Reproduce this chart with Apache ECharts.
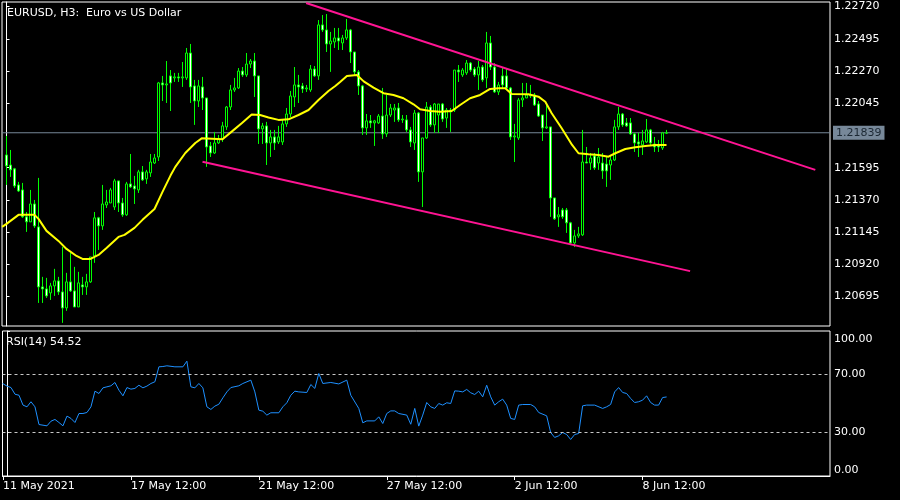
<!DOCTYPE html>
<html><head><meta charset="utf-8">
<script src="https://cdn.jsdelivr.net/npm/echarts@6/dist/echarts.min.js"></script>
<style>html,body{margin:0;padding:0;background:#000}#c{width:900px;height:500px}</style>
</head><body><div id="c"></div>
<script>
// ---- data ----
const titleText = 'EURUSD, H3:  Euro vs US Dollar';
const rsiTitle = 'RSI(14) 54.52';
const priceTicks = [1.20695, 1.20920, 1.21145, 1.21370, 1.21595, 1.22045, 1.22270, 1.22495, 1.22720];
const rsiTicks = [0, 30, 70, 100];
const rsiLevels = [30, 70];
const timeLabels = ['11 May 2021', '17 May 12:00', '21 May 12:00', '27 May 12:00', '2 Jun 12:00', '8 Jun 12:00'];
const timeLabelBars = [-1, 31, 63, 95, 127, 159];
const bidPrice = 1.21839;
// candles: [open, close, low, high], one per H3 bar
const candles = [
[1.21684,1.21608,1.21475,1.21817],[1.21614,1.21580,1.21531,1.21719],[1.21587,1.21468,1.21454,1.21594],[1.21475,1.21433,1.21426,1.21496],
[1.21440,1.21252,1.21245,1.21489],[1.21252,1.21217,1.21147,1.21286],[1.21217,1.21342,1.21217,1.21440],[1.21342,1.21189,1.21175,1.21370],
[1.21182,1.20763,1.20651,1.21524],[1.20763,1.20749,1.20651,1.20833],[1.20749,1.20700,1.20686,1.20826],[1.20721,1.20770,1.20672,1.20791],
[1.20770,1.20805,1.20700,1.20889],[1.20805,1.20728,1.20707,1.20833],[1.20728,1.20616,1.20512,1.21042],[1.20616,1.20798,1.20596,1.20861],
[1.20798,1.20735,1.20728,1.21000],[1.20735,1.20623,1.20623,1.20903],[1.20623,1.20791,1.20623,1.20868],[1.20777,1.20763,1.20707,1.20833],
[1.20763,1.20798,1.20707,1.20854],[1.20798,1.20972,1.20791,1.20972],[1.20979,1.21245,1.20931,1.21286],[1.21245,1.21189,1.21021,1.21252],
[1.21189,1.21342,1.21161,1.21475],[1.21335,1.21356,1.21314,1.21440],[1.21349,1.21440,1.21349,1.21454],[1.21321,1.21503,1.21300,1.21517],
[1.21503,1.21349,1.21286,1.21503],[1.21349,1.21266,1.21252,1.21384],[1.21266,1.21482,1.21259,1.21496],[1.21482,1.21461,1.21454,1.21691],
[1.21468,1.21447,1.21342,1.21538],[1.21440,1.21566,1.21419,1.21580],[1.21566,1.21510,1.21503,1.21607],[1.21517,1.21566,1.21482,1.21580],
[1.21559,1.21635,1.21531,1.21691],[1.21628,1.21663,1.21621,1.21691],[1.21670,1.22187,1.21642,1.22194],[1.22187,1.22173,1.22061,1.22236],
[1.22173,1.22180,1.22047,1.22340],[1.22236,1.22187,1.21991,1.22277],[1.22222,1.22229,1.22194,1.22257],[1.22229,1.22222,1.22194,1.22257],
[1.22222,1.22229,1.22159,1.22333],[1.22222,1.22396,1.22208,1.22431],[1.22396,1.22159,1.22047,1.22459],[1.22166,1.22061,1.21894,1.22208],
[1.22061,1.22166,1.22019,1.22208],[1.22159,1.22082,1.21998,1.22229],[1.22082,1.21740,1.21601,1.22082],[1.21747,1.21698,1.21670,1.21775],
[1.21698,1.21768,1.21691,1.21845],[1.21768,1.21796,1.21761,1.21824],[1.21796,1.21887,1.21775,1.21915],[1.21880,1.22019,1.21859,1.22026],
[1.22019,1.22138,1.21998,1.22173],[1.22138,1.22152,1.22124,1.22222],[1.22152,1.22270,1.22145,1.22291],[1.22270,1.22243,1.22229,1.22298],
[1.22243,1.22319,1.22229,1.22396],[1.22319,1.22340,1.22291,1.22354],[1.22340,1.22236,1.22089,1.22396],[1.22236,1.21866,1.21761,1.22236],
[1.21866,1.21887,1.21761,1.21908],[1.21887,1.21768,1.21614,1.21915],[1.21768,1.21810,1.21670,1.21859],[1.21810,1.21768,1.21719,1.21859],
[1.21775,1.21810,1.21761,1.21887],[1.21775,1.21901,1.21754,1.21929],[1.21901,1.21970,1.21880,1.22012],[1.21970,1.22096,1.21949,1.22131],
[1.22089,1.22173,1.22019,1.22298],[1.22173,1.22159,1.22047,1.22243],[1.22166,1.22145,1.22117,1.22187],[1.22145,1.22152,1.22124,1.22173],
[1.22138,1.22284,1.22124,1.22312],[1.22284,1.22236,1.22229,1.22305],[1.22236,1.22592,1.22208,1.22626],[1.22592,1.22557,1.22543,1.22661],
[1.22557,1.22459,1.22403,1.22668],[1.22459,1.22480,1.22264,1.22543],[1.22473,1.22501,1.22431,1.22571],[1.22501,1.22480,1.22417,1.22571],
[1.22466,1.22501,1.22417,1.22522],[1.22501,1.22557,1.22487,1.22633],[1.22557,1.22403,1.22326,1.22564],[1.22403,1.22264,1.22243,1.22403],
[1.22264,1.22166,1.22103,1.22277],[1.22166,1.21873,1.21824,1.22173],[1.21873,1.21922,1.21824,1.21970],[1.21922,1.21908,1.21873,1.21963],
[1.21908,1.21922,1.21747,1.21929],[1.21908,1.21956,1.21901,1.21970],[1.21956,1.21831,1.21796,1.22152],[1.21831,1.21963,1.21810,1.22103],
[1.21963,1.22012,1.21949,1.22040],[1.21998,1.22012,1.21915,1.22040],[1.22012,1.21929,1.21915,1.22047],[1.21929,1.21935,1.21908,1.21963],
[1.21929,1.21859,1.21845,1.21963],[1.21859,1.21775,1.21740,1.21880],[1.21768,1.21977,1.21719,1.21998],[1.21977,1.21566,1.21496,1.21984],
[1.21566,1.21803,1.21321,1.21803],[1.21803,1.22019,1.21796,1.22054],[1.22019,1.21894,1.21880,1.22033],[1.21894,1.22040,1.21838,1.22047],
[1.21963,1.22040,1.21838,1.22040],[1.22040,1.21935,1.21915,1.22047],[1.21942,1.21998,1.21873,1.22012],[1.21998,1.21984,1.21845,1.22012],
[1.21998,1.22277,1.21984,1.22277],[1.22277,1.22264,1.22194,1.22312],[1.22243,1.22277,1.22229,1.22291],[1.22257,1.22326,1.22243,1.22347],
[1.22326,1.22277,1.22264,1.22333],[1.22284,1.22243,1.22229,1.22298],[1.22243,1.22298,1.22138,1.22340],[1.22298,1.22208,1.22194,1.22312],
[1.22222,1.22466,1.22152,1.22543],[1.22466,1.22298,1.22277,1.22515],[1.22298,1.22124,1.22117,1.22326],[1.22124,1.22173,1.22103,1.22194],
[1.22236,1.22173,1.22152,1.22291],[1.22236,1.22152,1.22138,1.22291],[1.22152,1.21810,1.21789,1.22159],[1.21810,1.21817,1.21635,1.21901],
[1.21803,1.22068,1.21789,1.22082],[1.22068,1.22082,1.22019,1.22187],[1.22082,1.22103,1.22082,1.22187],[1.22096,1.22103,1.22082,1.22173],
[1.22103,1.22033,1.22026,1.22117],[1.22040,1.21956,1.21949,1.22061],[1.21963,1.21873,1.21782,1.21963],[1.21873,1.21880,1.21866,1.22047],
[1.21880,1.21384,1.21252,1.21880],[1.21384,1.21238,1.21231,1.21384],[1.21252,1.21266,1.21182,1.21321],[1.21300,1.21252,1.21238,1.21314],
[1.21300,1.21210,1.21140,1.21314],[1.21210,1.21070,1.21056,1.21217],[1.21070,1.21119,1.21042,1.21161],[1.21119,1.21133,1.21105,1.21182],
[1.21126,1.21635,1.21119,1.21859],[1.21635,1.21628,1.21628,1.21740],[1.21628,1.21663,1.21580,1.21698],[1.21677,1.21594,1.21580,1.21698],
[1.21628,1.21670,1.21580,1.21733],[1.21628,1.21573,1.21517,1.21698],[1.21621,1.21573,1.21461,1.21670],[1.21614,1.21649,1.21510,1.21684],
[1.21649,1.21880,1.21642,1.21929],[1.21880,1.21970,1.21859,1.22019],[1.21970,1.21894,1.21880,1.21977],[1.21908,1.21887,1.21880,1.21942],
[1.21908,1.21831,1.21824,1.21942],[1.21831,1.21768,1.21705,1.21838],[1.21775,1.21761,1.21670,1.21838],[1.21754,1.21782,1.21684,1.21859],
[1.21775,1.21859,1.21768,1.21935],[1.21859,1.21768,1.21754,1.21866],[1.21761,1.21740,1.21705,1.21810],[1.21754,1.21740,1.21705,1.21789],
[1.21733,1.21838,1.21719,1.21845],[1.21836,1.21839,1.21831,1.21859]
];
// moving average (yellow), [bar, price]
const maPoints = [
[-1.1,1.21182],[0,1.21203],[3,1.21266],[7,1.21266],[8,1.21238],[10,1.21154],[13,1.21084],[15,1.21028],[17.5,1.20979],
[19,1.20958],[21,1.20958],[23,1.20986],[25,1.21035],[28,1.21112],[29.5,1.21126],[32,1.21175],[34,1.21231],[37,1.21307],
[39,1.21426],[41,1.21540],[42.2,1.21601],[44.7,1.21698],[47.2,1.21768],[48.8,1.21800],[54,1.21794],[56.3,1.21847],
[58.8,1.21906],[61.3,1.21967],[63.4,1.21963],[65.5,1.21946],[68,1.21929],[70.5,1.21933],[73,1.21963],[75.5,1.21998],
[78,1.22068],[80.5,1.22131],[82.2,1.22166],[83.4,1.22194],[85.1,1.22236],[87.6,1.22243],[89.3,1.22198],[91.75,1.22154],
[94.25,1.22115],[96.75,1.22103],[99.25,1.22080],[101.75,1.22038],[103.4,1.22003],[105.9,1.21991],[108.4,1.21986],
[111.3,1.21991],[113.4,1.22033],[115.9,1.22080],[118.4,1.22103],[120.9,1.22145],[123,1.22150],[124.7,1.22150],
[126.3,1.22110],[130.5,1.22108],[133,1.22091],[134.7,1.22056],[136.3,1.21975],[138.8,1.21871],[141.4,1.21754],
[143,1.21696],[145.5,1.21689],[148,1.21684],[150.5,1.21672],[152.2,1.21696],[154.7,1.21726],[157.2,1.21738],
[159.7,1.21747],[162.2,1.21754],[165,1.21754]
];
// trend lines, [bar, price]
const upperTrend = [[74.9, 1.22745], [202.2, 1.21580]];
const lowerTrend = [[49.0, 1.21637], [170.9, 1.20873]];
// RSI(14), [bar, value]
const rsiPoints = [
[-1.1,63.8],[0,62.0],[1,61.0],[2,56.4],[3,55.7],[4,48.9],[5,47.7],[6,51.2],[7,47.7],[8,35.5],[10,34.6],[11,37.8],[12,39.0],
[13,36.9],[14,34.6],[15,41.3],[16,39.7],[17,36.9],[18,43.1],[19,43.1],[20,43.8],[21,47.7],[22,58.5],[23,56.9],[24,60.8],
[25,61.5],[26,62.2],[27,64.5],[28,59.2],[29,55.3],[30,61.0],[31,59.9],[32,60.4],[33,62.6],[34,60.8],[35,62.0],[36,63.8],
[37,65.0],[38,75.3],[39,75.5],[40,76.0],[42,75.3],[44,75.3],[45,79.2],[46,61.5],[47,60.8],[48,63.8],[49,60.8],[50,47.7],
[51,45.9],[52,48.2],[53,49.5],[54,53.9],[55,58.0],[56,61.0],[58,62.2],[59,63.8],[61,66.1],[62,58.0],[63,45.4],[64,44.7],
[65,42.0],[66,43.6],[68,43.6],[69,47.7],[70,50.5],[71,55.7],[72,58.5],[73,58.0],[75,57.6],[76,63.1],[77,60.4],[78,70.7],
[79,63.8],[81,64.5],[83,63.5],[85,66.1],[86,55.7],[88,46.6],[89,36.7],[90,38.0],[92,38.0],[93,40.8],[94,36.2],[95,43.1],
[96,44.9],[97,44.9],[98,43.1],[100,42.0],[101,35.7],[102,46.6],[103,34.4],[104,42.0],[105,50.7],[106,47.7],[107,46.6],
[108,50.0],[109,48.9],[110,50.5],[111,50.0],[112,58.7],[113,58.5],[114,58.0],[115,59.7],[116,57.4],[117,56.2],[118,58.5],
[119,54.6],[120,62.6],[121,54.6],[122,48.9],[123,51.2],[124,53.0],[125,48.9],[126,39.7],[127,39.0],[128,48.9],[129,49.3],
[131,49.3],[132,47.7],[133,43.8],[135,41.5],[136,30.0],[137,26.6],[138,27.7],[139,30.0],[140,28.6],[141,25.2],[142,28.6],
[143,29.3],[144,48.4],[145,48.9],[147,48.9],[149,46.6],[150,47.7],[151,49.3],[152,58.0],[153,61.0],[154,57.6],[155,56.9],
[156,53.5],[157,50.7],[158,51.2],[159,52.3],[160,55.3],[161,50.7],[162,48.9],[163,48.9],[164,54.1],[165,54.52]
];

// ---- chart ----
const FONT = 'DejaVu Sans';
const X_MIN = -1.125, X_MAX = 205.875;
const chart = echarts.init(document.getElementById('c'), null, {renderer: 'canvas'});
const txt = {color: '#ffffff', fontFamily: FONT, fontSize: 11};
chart.setOption({
  backgroundColor: '#000000',
  animation: false,
  title: [
    {text: titleText, left: 7, top: 8, padding: 0, textStyle: Object.assign({fontWeight: 'normal'}, txt)},
    {text: rsiTitle, left: 6, top: 337, padding: 0, textStyle: Object.assign({fontWeight: 'normal'}, txt)}
  ],
  grid: [
    {left: 2, right: 70, top: 2, height: 324, show: true, borderColor: '#ffffff', borderWidth: 1, backgroundColor: '#000'},
    {left: 2, right: 70, top: 331, height: 145, show: true, borderColor: '#ffffff', borderWidth: 1, backgroundColor: '#000'}
  ],
  xAxis: [
    {gridIndex: 0, type: 'value', min: X_MIN, max: X_MAX, show: false},
    {gridIndex: 1, type: 'value', min: X_MIN, max: X_MAX,
     axisLine: {show: true, lineStyle: {color: '#ffffff'}},
     axisTick: {show: true, customValues: timeLabelBars, length: 4, lineStyle: {color: '#ffffff'}},
     axisLabel: Object.assign({customValues: timeLabelBars, align: 'left', margin: 5,
       formatter: v => timeLabels[timeLabelBars.indexOf(v)] || ''}, txt),
     splitLine: {show: false}}
  ],
  yAxis: [
    {gridIndex: 0, type: 'value', position: 'right', min: 1.20490, max: 1.22752,
     axisLine: {show: true, lineStyle: {color: '#ffffff'}},
     axisTick: {show: true, customValues: priceTicks, length: 3, lineStyle: {color: '#ffffff'}},
     axisLabel: Object.assign({customValues: priceTicks, margin: 4, formatter: v => v.toFixed(5)}, txt),
     splitLine: {show: false}},
    {gridIndex: 1, type: 'value', position: 'right', min: 0, max: 100,
     axisLine: {show: true, lineStyle: {color: '#ffffff'}},
     axisTick: {show: true, customValues: rsiTicks, length: 3, lineStyle: {color: '#ffffff'}},
     axisLabel: Object.assign({customValues: rsiTicks, margin: 4,
       formatter: v => v === 100 ? '{t|100.00}' : (v === 0 ? '{b|0.00}' : v.toFixed(2)),
       rich: {t: Object.assign({padding: [16, 0, 0, 0]}, txt), b: Object.assign({padding: [0, 0, 12, 0]}, txt)}}, txt),
     splitLine: {show: false}}
  ],
  series: [
    {type: 'line', xAxisIndex: 0, yAxisIndex: 0, z: 1, silent: true,
     data: [[X_MIN, bidPrice], [X_MAX, bidPrice]], showSymbol: false, symbol: 'none',
     lineStyle: {color: '#778899', width: 1},
     markPoint: {silent: true, symbol: 'rect', symbolSize: 0, animation: false,
       label: {show: true, position: 'right', distance: 3, formatter: () => bidPrice.toFixed(5),
         backgroundColor: '#778899', color: '#1c2833', fontFamily: FONT, fontSize: 11, padding: [2, 3, 1, 3]},
       data: [{coord: [X_MAX, bidPrice]}]}},
    {type: 'candlestick', xAxisIndex: 0, yAxisIndex: 0, z: 2,
     data: candles.map((c, i) => [i, c[0], c[1], c[2], c[3]]),
     encode: {x: 0, y: [1, 2, 3, 4]},
     barWidth: 2, barMinWidth: 2, barMaxWidth: 2,
     itemStyle: {color: '#000000', color0: '#ffffff', borderColor: '#00ff00', borderColor0: '#00ff00', borderWidth: 1}},
    {type: 'line', xAxisIndex: 0, yAxisIndex: 0, z: 3, data: maPoints, showSymbol: false, symbol: 'none',
     lineStyle: {color: '#ffff00', width: 2}},
    {type: 'line', xAxisIndex: 0, yAxisIndex: 0, z: 4, data: upperTrend, showSymbol: false, symbol: 'none',
     lineStyle: {color: '#ff1493', width: 2}},
    {type: 'line', xAxisIndex: 0, yAxisIndex: 0, z: 4, data: lowerTrend, showSymbol: false, symbol: 'none',
     lineStyle: {color: '#ff1493', width: 2}},
    {type: 'line', xAxisIndex: 1, yAxisIndex: 1, z: 3, data: rsiPoints, showSymbol: false, symbol: 'none',
     lineStyle: {color: '#1e90ff', width: 1},
     markLine: {silent: true, symbol: 'none', animation: false, label: {show: false},
       lineStyle: {color: '#c8c8c8', width: 1, type: [3, 3]},
       data: rsiLevels.map(v => ({yAxis: v}))}}
  ]
});
</script>
</body></html>
